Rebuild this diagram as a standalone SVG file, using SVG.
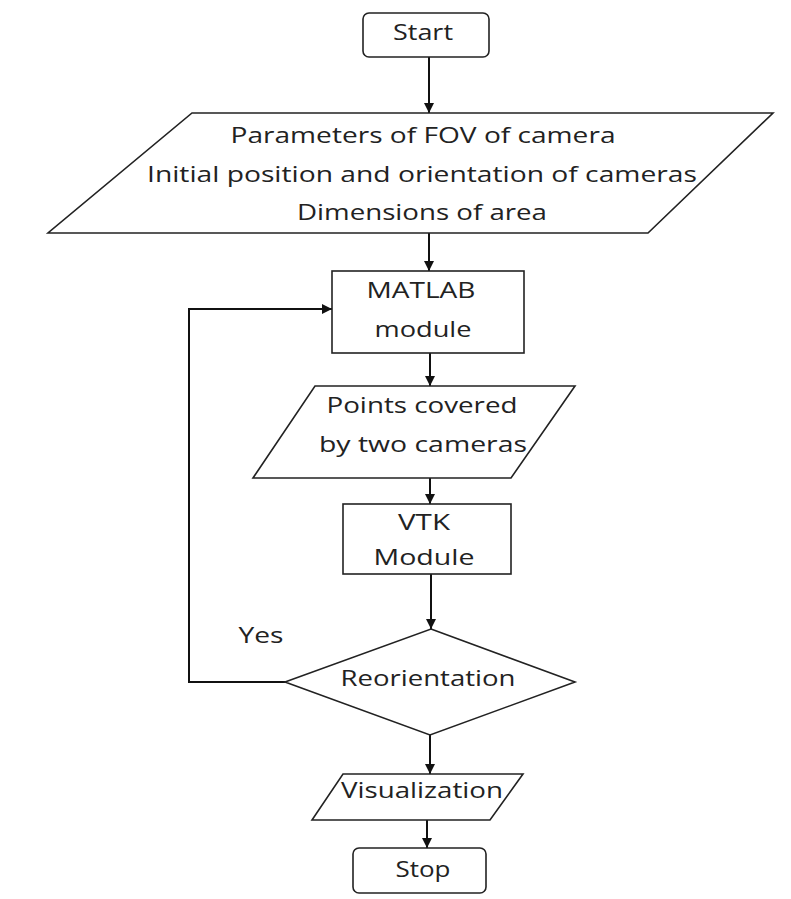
<svg xmlns="http://www.w3.org/2000/svg" width="791" height="899" viewBox="0 0 791 899">
<defs>
<marker id="ah" viewBox="0 0 10 10" refX="10" refY="5" markerWidth="10" markerHeight="10" markerUnits="userSpaceOnUse" orient="auto">
<path d="M0,0 L10,5 L0,10 Z" fill="#111"/>
</marker>
<style>
.s{fill:#fff;stroke:#222;stroke-width:1.6}
.c{fill:none;stroke:#111;stroke-width:2}
text{font-family:"Open Sans","Liberation Sans",sans-serif;font-size:21px;fill:#222;text-anchor:middle}
</style>
</defs>
<rect width="791" height="899" fill="#fff"/>
<g id="connectors">
<line class="c" x1="429" y1="57" x2="429" y2="113" marker-end="url(#ah)"/>
<line class="c" x1="429" y1="233" x2="429" y2="271" marker-end="url(#ah)"/>
<line class="c" x1="430" y1="353" x2="430" y2="386" marker-end="url(#ah)"/>
<line class="c" x1="430" y1="478" x2="430" y2="504" marker-end="url(#ah)"/>
<line class="c" x1="431" y1="574" x2="431" y2="629" marker-end="url(#ah)"/>
<line class="c" x1="430" y1="735" x2="430" y2="774" marker-end="url(#ah)"/>
<line class="c" x1="427" y1="820" x2="427" y2="848" marker-end="url(#ah)"/>
<polyline class="c" points="285,682 189,682 189,309 332,309" marker-end="url(#ah)"/>
<text x="261" y="643" textLength="45" lengthAdjust="spacingAndGlyphs">Yes</text>
</g>
<g id="start">
<rect class="s" x="363" y="13" width="126" height="44" rx="6"/>
<text x="423" y="40" textLength="60" lengthAdjust="spacingAndGlyphs">Start</text>
</g>
<g id="input">
<polygon class="s" points="192,113 773,113 648,233 48,233"/>
<text x="423" y="143" textLength="385" lengthAdjust="spacingAndGlyphs">Parameters of FOV of camera</text>
<text x="422" y="182" textLength="550" lengthAdjust="spacingAndGlyphs">Initial position and orientation of cameras</text>
<text x="422" y="220" textLength="250" lengthAdjust="spacingAndGlyphs">Dimensions of area</text>
</g>
<g id="matlab">
<rect class="s" x="332" y="271" width="192" height="82"/>
<text x="421" y="298" textLength="109" lengthAdjust="spacingAndGlyphs">MATLAB</text>
<text x="423" y="337" textLength="97" lengthAdjust="spacingAndGlyphs">module</text>
</g>
<g id="points">
<polygon class="s" points="315,386 575,386 511,478 253,478"/>
<text x="422" y="413" textLength="191" lengthAdjust="spacingAndGlyphs">Points covered</text>
<text x="423" y="452" textLength="208" lengthAdjust="spacingAndGlyphs">by two cameras</text>
</g>
<g id="vtk">
<rect class="s" x="343" y="504" width="168" height="70"/>
<text x="424" y="530" textLength="52" lengthAdjust="spacingAndGlyphs">VTK</text>
<text x="424" y="565" textLength="101" lengthAdjust="spacingAndGlyphs">Module</text>
</g>
<g id="reorientation">
<polygon class="s" points="431,629 575,682 430,735 285,682"/>
<text x="428" y="686" textLength="175" lengthAdjust="spacingAndGlyphs">Reorientation</text>
</g>
<g id="visualization">
<polygon class="s" points="343,774 523,774 490,820 312,820"/>
<text x="422" y="798" textLength="162" lengthAdjust="spacingAndGlyphs">Visualization</text>
</g>
<g id="stop">
<rect class="s" x="353" y="848" width="133" height="45" rx="6"/>
<text x="423" y="877" textLength="55" lengthAdjust="spacingAndGlyphs">Stop</text>
</g>
</svg>
